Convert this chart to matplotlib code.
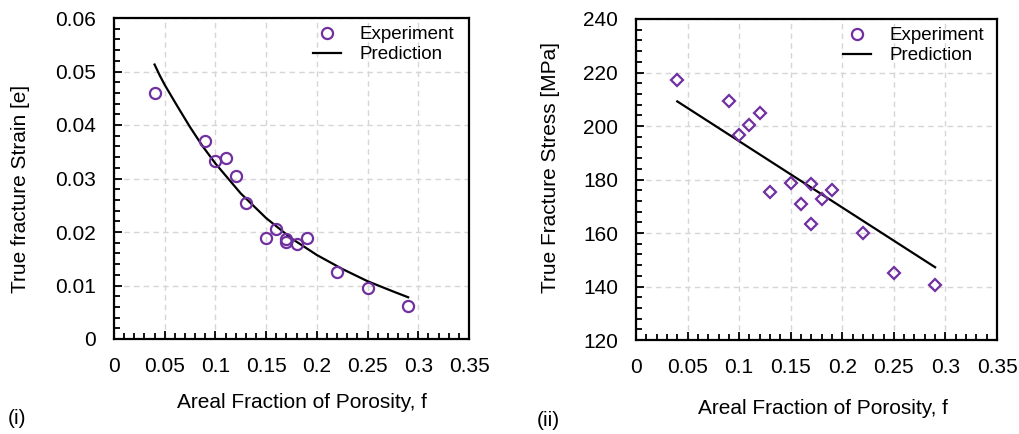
import matplotlib
matplotlib.use("Agg")
import matplotlib.pyplot as plt
from matplotlib.lines import Line2D
from matplotlib.ticker import MultipleLocator, FuncFormatter

# measured fracture data vs areal porosity fraction
f_exp = [0.04, 0.09, 0.10, 0.11, 0.12, 0.13, 0.15, 0.16, 0.17, 0.17, 0.18, 0.19, 0.22, 0.25, 0.29]
strain_exp = [0.0459, 0.0371, 0.0333, 0.0338, 0.0305, 0.0254, 0.0188, 0.0205, 0.0186, 0.0181,
              0.0178, 0.0188, 0.0125, 0.0096, 0.0062]
stress_exp = [217.2, 209.3, 196.7, 200.3, 205.0, 175.4, 178.6, 170.7, 178.2, 163.4,
              172.6, 176.1, 159.9, 144.9, 140.7]

# model predictions
f_pred_strain = [0.04, 0.045, 0.05, 0.0625, 0.075, 0.0875, 0.10, 0.125, 0.15, 0.175, 0.20,
                 0.225, 0.25, 0.275, 0.29]
strain_pred = [0.0513, 0.0493, 0.0475, 0.0435, 0.0396, 0.0360, 0.0328, 0.0272, 0.0226, 0.0188,
               0.0157, 0.0131, 0.0108, 0.0089, 0.0078]
f_pred_stress = [0.04, 0.29]
stress_pred = [209.2, 147.2]

PURPLE = "#7030A0"
plt.rcParams["font.family"] = ["Liberation Sans", "DejaVu Sans"]

fig = plt.figure(figsize=(10.19, 4.34), dpi=100)
W, H = 1019, 434


def px_axes(x0, y0, x1, y1):
    return fig.add_axes([x0 / W, 1 - y1 / H, (x1 - x0) / W, (y1 - y0) / H])


def style(ax, ylim, ymaj, ymin):
    ax.set_xlim(0, 0.35)
    ax.set_ylim(*ylim)
    ax.xaxis.set_major_locator(MultipleLocator(0.05))
    ax.xaxis.set_minor_locator(MultipleLocator(0.01))
    ax.yaxis.set_major_locator(MultipleLocator(ymaj))
    ax.yaxis.set_minor_locator(MultipleLocator(ymin))
    fmt = FuncFormatter(lambda v, p: "%g" % round(v, 6))
    ax.xaxis.set_major_formatter(fmt)
    ax.yaxis.set_major_formatter(fmt)
    ax.tick_params(which="both", direction="in", labelsize=15, width=1.3)
    ax.tick_params(which="major", length=6, pad=13)
    ax.tick_params(which="minor", length=4)
    for s in ax.spines.values():
        s.set_linewidth(1.6)
    ax.grid(True, which="major", color="#d6d6d6", linestyle=(0, (4, 3)), linewidth=1.0)
    ax.set_axisbelow(True)


def add_legend(ax, anchor):
    handles = [
        Line2D([], [], linestyle="none", marker="o", markersize=8, markerfacecolor="none",
               markeredgecolor=PURPLE, markeredgewidth=1.6),
        Line2D([], [], color="black", linewidth=1.6),
    ]
    ax.legend(handles, ["Experiment", "Prediction"], loc="upper left", bbox_to_anchor=anchor,
              frameon=False, fontsize=13.5, borderpad=0, borderaxespad=0,
              handlelength=1.5, handletextpad=1.0, labelspacing=0.15)


# (i) strain
ax1 = px_axes(114, 18, 469, 339)
style(ax1, (0, 0.06), 0.01, 0.002)
ax1.plot(f_pred_strain, strain_pred, color="black", linewidth=1.6, zorder=3)
ax1.plot(f_exp, strain_exp, linestyle="none", marker="o", markersize=8, markerfacecolor="none",
         markeredgecolor=PURPLE, markeredgewidth=1.6, zorder=4)
add_legend(ax1, (0.56, 0.975))

# (ii) stress
ax2 = px_axes(636, 19, 997, 340)
style(ax2, (120, 240), 20, 4)
ax2.plot(f_pred_stress, stress_pred, color="black", linewidth=1.6, zorder=3)
ax2.plot(f_exp, stress_exp, linestyle="none", marker="D", markersize=6.5, markerfacecolor="none",
         markeredgecolor=PURPLE, markeredgewidth=1.6, zorder=4)
add_legend(ax2, (0.573, 0.975))

# axis titles and panel tags
fig.text(21 / W, 1 - 293 / H, "True fracture Strain [e]", rotation=90, ha="center", va="bottom",
         fontsize=15)
fig.text(551 / W, 1 - 293 / H, "True Fracture Stress [MPa]", rotation=90, ha="center",
         va="bottom", fontsize=15)
fig.text(302 / W, 1 - 403 / H, "Areal Fraction of Porosity, f", ha="center", va="center",
         fontsize=15)
fig.text(823 / W, 1 - 408 / H, "Areal Fraction of Porosity, f", ha="center", va="center",
         fontsize=15)
fig.text(8 / W, 1 - 419 / H, "(i)", ha="left", va="center", fontsize=15)
fig.text(537 / W, 1 - 420 / H, "(ii)", ha="left", va="center", fontsize=15)

fig.savefig("out.png", dpi=100)
